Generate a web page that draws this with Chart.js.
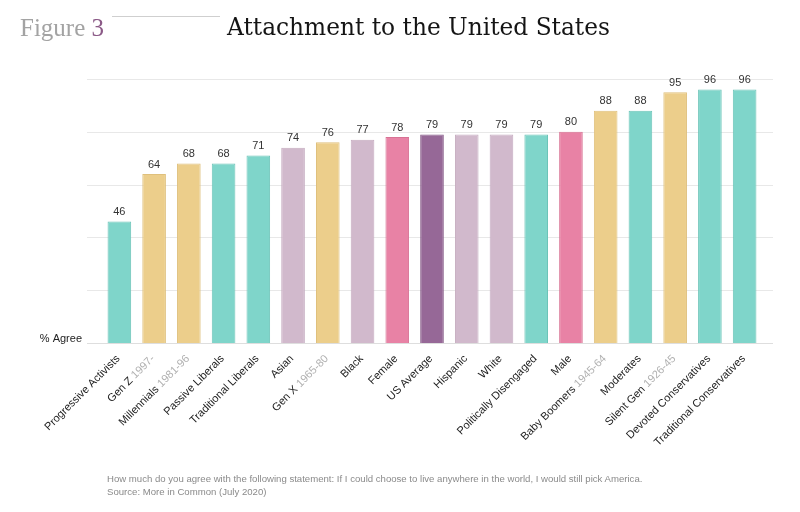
<!DOCTYPE html>
<html>
<head>
<meta charset="utf-8">
<script src="https://cdn.jsdelivr.net/npm/chart.js@4"></script>
<style>
  html, body { margin: 0; padding: 0; background: #fff; }
  #wrap { position: relative; width: 800px; height: 512px; overflow: hidden; }
  #c { position: absolute; left: 0; top: 0; }
  .fig { position: absolute; left: 20px; top: 14px; font-family: "Liberation Serif", serif; font-size: 25px; color: #a3a3a3; white-space: nowrap; }
  .fig span { color: #8b5a87; }
  .rule { position: absolute; left: 112px; top: 16px; width: 108px; height: 1px; background: #cfcfcf; }
  .title { position: absolute; left: 227px; top: 13px; font-family: "DejaVu Serif", serif; font-size: 23.3px; color: #141414; white-space: nowrap; }
  .note { position: absolute; left: 107px; font-family: "Liberation Sans", Arial, sans-serif; font-size: 9.6px; color: #8a8a8a; white-space: nowrap; }
</style>
</head>
<body>
<div id="wrap">
  <canvas id="c" width="800" height="512"></canvas>
  <div class="fig">Figure <span>3</span></div>
  <div class="rule"></div>
  <div class="title">Attachment to the United States</div>
  <div class="note" style="top:473px">How much do you agree with the following statement: If I could choose to live anywhere in the world, I would still pick America.</div>
  <div class="note" style="top:486px">Source: More in Common (July 2020)</div>
</div>
<script>
const categories = ["Progressive Activists", "Gen Z", "Millennials", "Passive Liberals", "Traditional Liberals", "Asian", "Gen X", "Black", "Female", "US Average", "Hispanic", "White", "Politically Disengaged", "Male", "Baby Boomers", "Moderates", "Silent Gen", "Devoted Conservatives", "Traditional Conservatives"];
const cohortYears = ["", "1997-", "1981-96", "", "", "", "1965-80", "", "", "", "", "", "", "", "1945-64", "", "1926-45", "", ""];
const agreeValues = [46, 64, 68, 68, 71, 74, 76, 77, 78, 79, 79, 79, 79, 80, 88, 88, 95, 96, 96];
const groups = ["segment", "generation", "generation", "segment", "segment", "race", "generation", "race", "gender", "average", "race", "race", "segment", "gender", "generation", "segment", "generation", "segment", "segment"];
const yTicks = [0, 20, 40, 60, 80, 100];
const axisLabel = "% Agree";

const groupColors = { segment: "#7fd5ca", generation: "#ecce8b", race: "#d1b9cc", gender: "#e882a5", average: "#966897" };
const groupBorders = { segment: "#6cc4b8", generation: "#dfc07c", race: "#c4aabf", gender: "#d87294", average: "#855886" };

const overlay = {
  id: "overlay",
  beforeDatasetsDraw(chart) {
    const ctx = chart.ctx, y = chart.scales.y;
    ctx.save();
    ctx.lineWidth = 1;
    yTicks.forEach(v => {
      const py = Math.round(y.getPixelForValue(v)) + 0.5;
      ctx.strokeStyle = v === 0 ? "#dedede" : "#e8e8e8";
      ctx.beginPath(); ctx.moveTo(87, py); ctx.lineTo(773, py); ctx.stroke();
    });
    ctx.fillStyle = "#222";
    ctx.font = "11px 'Liberation Sans', Arial, sans-serif";
    ctx.textAlign = "right"; ctx.textBaseline = "middle";
    ctx.fillText(axisLabel, 82, y.getPixelForValue(0) - 4);
    ctx.restore();
  },
  afterDatasetsDraw(chart) {
    const ctx = chart.ctx, x = chart.scales.x, y = chart.scales.y;
    const meta = chart.getDatasetMeta(0);
    ctx.save();
    ctx.font = "11px 'Liberation Sans', Arial, sans-serif";
    ctx.fillStyle = "#333";
    ctx.textAlign = "center"; ctx.textBaseline = "bottom";
    meta.data.forEach((bar, i) => {
      ctx.fillText(String(agreeValues[i]), bar.x, bar.y - 4);
    });
    const base = y.getPixelForValue(0);
    categories.forEach((name, i) => {
      const cx = x.getPixelForValue(i);
      const main = name;
      const yr = cohortYears[i] ? " " + cohortYears[i] : "";
      const wMain = ctx.measureText(main).width;
      const wYr = yr ? ctx.measureText(yr).width : 0;
      ctx.save();
      ctx.translate(cx - 1, base + 14);
      ctx.rotate(-Math.PI / 4);
      ctx.textAlign = "left"; ctx.textBaseline = "middle";
      ctx.fillStyle = "#222";
      ctx.fillText(main, -(wMain + wYr), 0);
      if (yr) { ctx.fillStyle = "#b0b0b0"; ctx.fillText(yr, -wYr, 0); }
      ctx.restore();
    });
    ctx.restore();
  }
};

new Chart(document.getElementById("c"), {
  type: "bar",
  data: {
    labels: categories,
    datasets: [{
      data: agreeValues,
      backgroundColor: groups.map(g => groupColors[g]),
      borderColor: groups.map(g => groupBorders[g]),
      borderWidth: 1,
      barPercentage: 0.68,
      categoryPercentage: 1
    }]
  },
  options: {
    responsive: false,
    animation: false,
    layout: { padding: { left: 102, right: 38, top: 79, bottom: 169 } },
    plugins: { legend: { display: false }, tooltip: { enabled: false } },
    scales: {
      x: { display: false, offset: true },
      y: { display: false, min: 0, max: 100 }
    }
  },
  plugins: [overlay]
});
</script>
</body>
</html>
